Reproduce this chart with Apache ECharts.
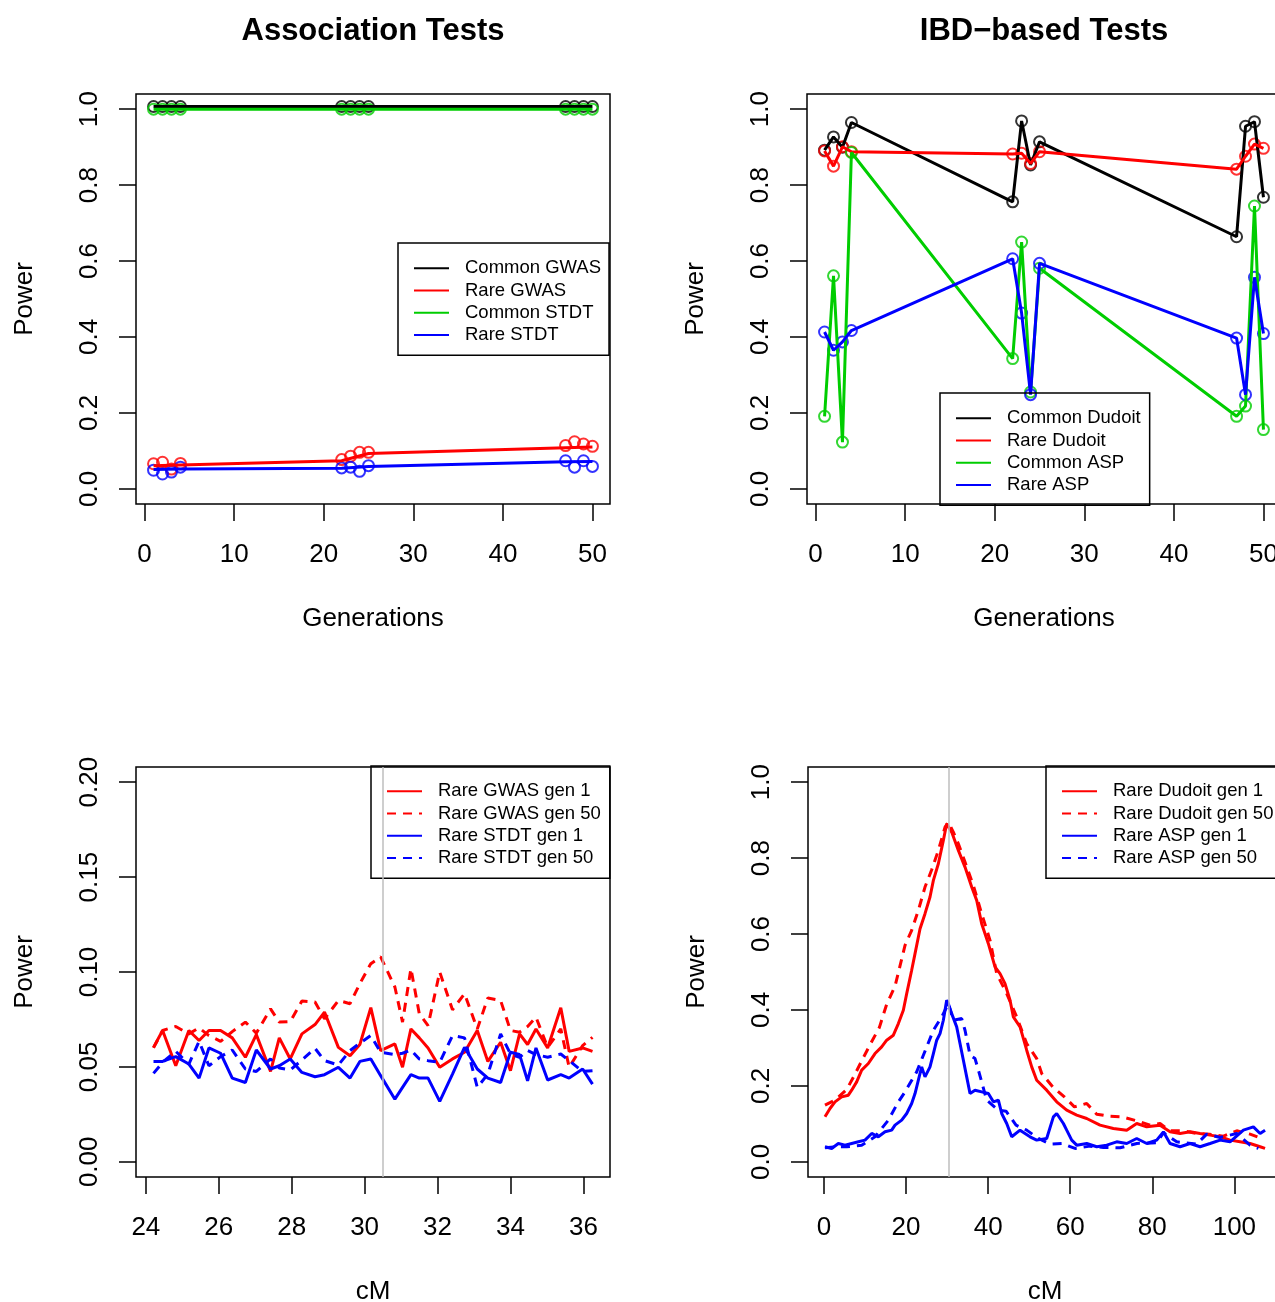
<!DOCTYPE html>
<html>
<head>
<meta charset="utf-8">
<script src="https://cdn.jsdelivr.net/npm/echarts@6/dist/echarts.min.js"></script>
<style>
html, body { margin: 0; padding: 0; background: #fff; }
#main { width: 1275px; height: 1302px; }
</style>
</head>
<body>
<div id="main"></div>
<script>
// generations simulated in the top two panels
var gens = [1, 2, 3, 4, 22, 23, 24, 25, 47, 48, 49, 50];
var lineGens = [1, 4, 22, 25, 47, 50];

// Association tests: replicate points and trend lines
var commonGwasPts = [1.007, 1.007, 1.007, 1.007, 1.007, 1.007, 1.007, 1.007, 1.007, 1.007, 1.007, 1.007];
var rareGwasPts = [0.066, 0.070, 0.052, 0.067, 0.077, 0.086, 0.096, 0.096, 0.114, 0.124, 0.118, 0.112];
var commonStdtPts = [1.0, 1.0, 1.0, 1.0, 1.0, 1.0, 1.0, 1.0, 1.0, 1.0, 1.0, 1.0];
var rareStdtPts = [0.049, 0.039, 0.044, 0.057, 0.055, 0.057, 0.046, 0.061, 0.074, 0.057, 0.074, 0.059];
var commonGwasLine = [1.007, 1.007, 1.007, 1.007, 1.007, 1.007];
var rareGwasLine = [0.061, 0.063, 0.074, 0.093, 0.108, 0.110];
var commonStdtLine = [1.0, 1.0, 1.0, 1.0, 1.0, 1.0];
var rareStdtLine = [0.051, 0.052, 0.054, 0.059, 0.071, 0.072];

// IBD-based tests
var commonDudoit = [0.892, 0.927, 0.900, 0.965, 0.756, 0.969, 0.853, 0.914, 0.664, 0.955, 0.967, 0.768];
var rareDudoit = [0.890, 0.850, 0.901, 0.888, 0.882, 0.884, 0.857, 0.888, 0.842, 0.876, 0.908, 0.897];
var commonAsp = [0.191, 0.561, 0.123, 0.886, 0.343, 0.650, 0.255, 0.581, 0.191, 0.218, 0.745, 0.156];
var rareAsp = [0.413, 0.365, 0.387, 0.417, 0.606, 0.463, 0.248, 0.594, 0.397, 0.248, 0.557, 0.409];

// position of the disease locus (grey line)
var causalCM = 30.5;

// bottom left: markers around the locus
var markerCM = [24.21, 24.46, 24.82, 25.18, 25.46, 25.73, 26.05, 26.37, 26.73, 27.03, 27.42, 27.66, 27.96, 28.28,
  28.64, 28.90, 29.28, 29.60, 29.87, 30.17, 30.44, 30.83, 31.04, 31.27, 31.50, 31.74, 32.06, 32.41, 32.74, 33.09,
  33.38, 33.73, 34.00, 34.25, 34.47, 34.70, 35.02, 35.38, 35.61, 35.98, 36.25];
var rareGwasGen1 = [0.0603, 0.0692, 0.0506, 0.0692, 0.0639, 0.0692, 0.0692, 0.0653, 0.0551, 0.0670, 0.0476, 0.0653,
  0.0542, 0.0674, 0.0723, 0.0789, 0.0603, 0.0559, 0.0618, 0.0812, 0.0586, 0.0621, 0.0498, 0.0700, 0.0653, 0.0600,
  0.0498, 0.0542, 0.0577, 0.0692, 0.0529, 0.0630, 0.0480, 0.0674, 0.0618, 0.0700, 0.0600, 0.0812, 0.0582, 0.0600, 0.0582];
var rareGwasGen50 = [0.0600, 0.0692, 0.0713, 0.0674, 0.0706, 0.0665, 0.0635, 0.0686, 0.0736, 0.0678, 0.0806, 0.0736,
  0.0739, 0.0847, 0.0842, 0.0753, 0.0850, 0.0833, 0.0939, 0.1044, 0.1080, 0.0921, 0.0736, 0.1018, 0.0780, 0.0718,
  0.1000, 0.0801, 0.0886, 0.0700, 0.0863, 0.0850, 0.0692, 0.0683, 0.0713, 0.0762, 0.0603, 0.0700, 0.0498, 0.0612, 0.0656];
var rareStdtGen1 = [0.0529, 0.0529, 0.0554, 0.0515, 0.0441, 0.0600, 0.0572, 0.0441, 0.0418, 0.0589, 0.0489, 0.0506,
  0.0542, 0.0471, 0.0448, 0.0459, 0.0498, 0.0441, 0.0529, 0.0542, 0.0454, 0.0330, 0.0392, 0.0459, 0.0441, 0.0441,
  0.0318, 0.0462, 0.0603, 0.0489, 0.0441, 0.0418, 0.0577, 0.0565, 0.0427, 0.0600, 0.0431, 0.0459, 0.0441, 0.0489, 0.0409];
var rareStdtGen50 = [0.0466, 0.0524, 0.0582, 0.0515, 0.0635, 0.0506, 0.0554, 0.0589, 0.0489, 0.0476, 0.0542, 0.0494,
  0.0484, 0.0536, 0.0598, 0.0533, 0.0510, 0.0586, 0.0625, 0.0665, 0.0577, 0.0565, 0.0572, 0.0589, 0.0542, 0.0533,
  0.0524, 0.0665, 0.0653, 0.0392, 0.0462, 0.0674, 0.0568, 0.0551, 0.0586, 0.0565, 0.0551, 0.0568, 0.0533, 0.0476, 0.0480];

// bottom right: whole chromosome
var dudoitGen1CM = [0.24, 1.46, 2.68, 4.31, 5.93, 6.74, 7.96, 9.18, 10.80, 12.43, 14.05, 15.27, 16.90, 18.12, 19.33,
  20.15, 21.36, 22.18, 23.40, 24.61, 25.83, 26.65, 27.86, 29.08, 29.89, 30.30, 31.11, 32.74, 34.36, 35.99, 37.21,
  38.42, 40.05, 41.67, 42.89, 44.11, 45.33, 46.14, 47.77, 49.39, 50.61, 51.83, 54.26, 56.70, 59.14, 61.58, 64.01,
  67.26, 70.51, 73.76, 76.20, 78.64, 81.88, 84.32, 86.76, 89.20, 91.63, 94.07, 96.51, 98.94, 101.38, 103.82, 106.26, 107.47];
var dudoitGen1 = [0.1185, 0.1404, 0.1580, 0.1711, 0.1755, 0.1887, 0.2106, 0.2414, 0.2589, 0.2852, 0.3027, 0.3203,
  0.3335, 0.3641, 0.3992, 0.4431, 0.5045, 0.5484, 0.6141, 0.6536, 0.6975, 0.7413, 0.7852, 0.8466, 0.8904, 0.8861,
  0.8685, 0.8203, 0.7764, 0.7238, 0.6887, 0.6273, 0.5746, 0.5133, 0.4957, 0.4694, 0.4255, 0.3817, 0.3554, 0.2940,
  0.2501, 0.2150, 0.1887, 0.1580, 0.1360, 0.1229, 0.1141, 0.0966, 0.0878, 0.0834, 0.1010, 0.0922, 0.0966, 0.0790,
  0.0746, 0.0790, 0.0746, 0.0703, 0.0659, 0.0571, 0.0527, 0.0483, 0.0396, 0.0352];
var dudoitGen50CM = [0.24, 2.68, 5.52, 7.55, 9.18, 11.37, 13.48, 15.27, 17.30, 18.52, 19.74, 21.36, 22.99, 24.61,
  26.24, 27.86, 29.49, 30.30, 31.52, 32.74, 34.36, 36.39, 38.42, 40.46, 42.08, 44.52, 46.95, 49.39, 51.83, 53.05,
  55.73, 58.57, 61.01, 64.01, 66.45, 69.29, 72.54, 76.20, 79.45, 81.88, 84.32, 87.57, 90.82, 93.91, 97.32, 100.57,
  103.82, 106.66];
var dudoitGen50 = [0.1492, 0.1624, 0.1904, 0.2308, 0.2659, 0.3115, 0.3536, 0.4150, 0.4624, 0.5159, 0.5703, 0.6097,
  0.6624, 0.7238, 0.7694, 0.8203, 0.8817, 0.8948, 0.8685, 0.8378, 0.7896, 0.7282, 0.6536, 0.5834, 0.4957, 0.4431,
  0.3817, 0.3115, 0.2720, 0.2325, 0.1975, 0.1711, 0.1448, 0.1536, 0.1255, 0.1203, 0.1185, 0.1080, 0.0966, 0.1010,
  0.0817, 0.0817, 0.0746, 0.0729, 0.0676, 0.0817, 0.0729, 0.0615];
var aspGen1CM = [0.24, 1.87, 3.49, 5.12, 6.74, 8.37, 9.99, 11.62, 13.24, 14.87, 16.49, 17.30, 18.93, 20.15, 21.36,
  22.18, 22.99, 23.80, 24.61, 25.83, 26.65, 27.46, 28.27, 29.08, 29.89, 30.30, 31.11, 32.33, 33.14, 33.96, 34.77,
  35.58, 36.80, 38.42, 40.05, 41.27, 42.49, 43.30, 44.52, 45.74, 47.77, 50.20, 51.83, 54.26, 55.89, 56.70, 58.33,
  59.14, 60.36, 61.58, 64.01, 66.45, 68.89, 71.32, 73.76, 76.20, 78.64, 81.07, 82.70, 84.32, 86.76, 89.20, 91.63,
  94.07, 96.51, 98.94, 102.19, 104.63, 106.26, 107.47];
var aspGen1 = [0.0396, 0.0352, 0.0483, 0.0439, 0.0483, 0.0527, 0.0571, 0.0747, 0.0659, 0.0790, 0.0834, 0.0966,
  0.1097, 0.1273, 0.1536, 0.1799, 0.2150, 0.2501, 0.2238, 0.2501, 0.2852, 0.3203, 0.3378, 0.3729, 0.4255, 0.4167,
  0.3904, 0.3554, 0.3115, 0.2676, 0.2238, 0.1799, 0.1887, 0.1843, 0.1799, 0.1580, 0.1624, 0.1273, 0.1010, 0.0659,
  0.0834, 0.0659, 0.0571, 0.0615, 0.1185, 0.1273, 0.1010, 0.0834, 0.0571, 0.0439, 0.0483, 0.0396, 0.0439, 0.0527,
  0.0483, 0.0615, 0.0483, 0.0571, 0.0790, 0.0483, 0.0396, 0.0483, 0.0396, 0.0483, 0.0571, 0.0527, 0.0834, 0.0922,
  0.0747, 0.0834];
var aspGen50CM = [0.24, 2.68, 5.52, 9.18, 12.43, 15.68, 18.12, 19.74, 22.58, 24.21, 26.65, 28.68, 30.30, 31.52,
  33.55, 34.36, 35.58, 36.80, 37.86, 39.64, 42.49, 44.36, 46.79, 49.39, 52.23, 55.08, 57.92, 61.17, 64.82, 68.07,
  72.13, 76.20, 81.07, 82.70, 85.95, 90.82, 93.26, 96.51, 100.57, 103.82, 105.85];
var aspGen50 = [0.0369, 0.0396, 0.0396, 0.0439, 0.0659, 0.1097, 0.1580, 0.1843, 0.2369, 0.2808, 0.3466, 0.3817,
  0.4167, 0.3729, 0.3773, 0.3466, 0.2808, 0.2720, 0.2325, 0.1624, 0.1360, 0.1334, 0.0966, 0.0834, 0.0615, 0.0466,
  0.0483, 0.0352, 0.0413, 0.0378, 0.0369, 0.0483, 0.0501, 0.0764, 0.0527, 0.0466, 0.0729, 0.0641, 0.0746, 0.0439, 0.0352];

var FONT = '"Liberation Sans", Arial, Helvetica, sans-serif';
var RED = '#ff0000', GREEN = '#00cd00', BLUE = '#0000ff', BLACK = '#000000';

function pairs(xs, ys) {
  return xs.map(function (x, i) { return [x, ys[i]]; });
}

function xAxisFor(grid, min, max, ticks, name) {
  return {
    type: 'value', gridIndex: grid, min: min, max: max,
    name: name, nameLocation: 'middle', nameGap: 102,
    nameTextStyle: { fontSize: 26, color: '#000', fontFamily: FONT },
    axisLine: { show: false, onZero: false },
    axisTick: { show: true, customValues: ticks, length: 17, lineStyle: { color: '#000', width: 1.5 } },
    axisLabel: { customValues: ticks, margin: 38, fontSize: 26, color: '#000', fontFamily: FONT },
    splitLine: { show: false }
  };
}

function yAxisFor(grid, min, max, ticks, digits) {
  return {
    type: 'value', gridIndex: grid, min: min, max: max,
    name: 'Power', nameLocation: 'middle', nameGap: 98,
    nameTextStyle: { fontSize: 26, color: '#000', fontFamily: FONT },
    axisLine: { show: false, onZero: false },
    axisTick: { show: true, customValues: ticks, length: 17, lineStyle: { color: '#000', width: 1.5 } },
    axisLabel: {
      customValues: ticks, margin: 33, rotate: 90, fontSize: 26, color: '#000', fontFamily: FONT,
      formatter: function (v) { return v.toFixed(digits); }
    },
    splitLine: { show: false }
  };
}

function lineSeries(name, grid, xs, ys, color, dashed) {
  return {
    type: 'line', name: name, xAxisIndex: grid, yAxisIndex: grid,
    data: pairs(xs, ys), symbol: 'none',
    lineStyle: { color: color, width: 3, type: dashed ? [9, 7] : 'solid' },
    itemStyle: { color: color }
  };
}

function pointSeries(name, grid, xs, ys, color) {
  return {
    type: 'scatter', name: name, xAxisIndex: grid, yAxisIndex: grid,
    data: pairs(xs, ys), symbol: 'circle', symbolSize: 11,
    itemStyle: { color: 'rgba(0,0,0,0)', borderColor: color, borderWidth: 2 }
  };
}

function legendBox(names, left, top, padRight) {
  return {
    orient: 'vertical', left: left, top: top, data: names,
    itemWidth: 35, itemHeight: 12, itemGap: 0,
    padding: [14, padRight, 9, 15],
    borderColor: '#000', borderWidth: 1.5,
    selectedMode: false,
    itemStyle: { opacity: 0 },
    lineStyle: { width: 2 },
    textStyle: { fontSize: 18.5, lineHeight: 22.3, color: '#000', fontFamily: FONT, padding: [0, 0, 0, 11] }
  };
}

function gridBox(left, top) {
  return {
    left: left, top: top, width: 474, height: 410, outerBoundsMode: 'none',
    show: true, borderColor: '#000', borderWidth: 1.5, backgroundColor: 'transparent'
  };
}

var grayLine = {
  silent: true, symbol: 'none', label: { show: false },
  lineStyle: { color: '#bebebe', width: 1.5, type: 'solid' },
  data: [{ xAxis: causalCM }]
};

var chart = echarts.init(document.getElementById('main'));

var series = [
  lineSeries('Common GWAS', 0, lineGens, commonGwasLine, BLACK),
  pointSeries('Common GWAS pts', 0, gens, commonGwasPts, BLACK),
  lineSeries('Rare GWAS', 0, lineGens, rareGwasLine, RED),
  pointSeries('Rare GWAS pts', 0, gens, rareGwasPts, RED),
  lineSeries('Common STDT', 0, lineGens, commonStdtLine, GREEN),
  pointSeries('Common STDT pts', 0, gens, commonStdtPts, GREEN),
  lineSeries('Rare STDT', 0, lineGens, rareStdtLine, BLUE),
  pointSeries('Rare STDT pts', 0, gens, rareStdtPts, BLUE),

  lineSeries('Common Dudoit', 1, gens, commonDudoit, BLACK),
  pointSeries('Common Dudoit pts', 1, gens, commonDudoit, BLACK),
  lineSeries('Rare Dudoit', 1, gens, rareDudoit, RED),
  pointSeries('Rare Dudoit pts', 1, gens, rareDudoit, RED),
  lineSeries('Common ASP', 1, gens, commonAsp, GREEN),
  pointSeries('Common ASP pts', 1, gens, commonAsp, GREEN),
  lineSeries('Rare ASP', 1, gens, rareAsp, BLUE),
  pointSeries('Rare ASP pts', 1, gens, rareAsp, BLUE),

  lineSeries('Rare GWAS gen 1', 2, markerCM, rareGwasGen1, RED, false),
  lineSeries('Rare GWAS gen 50', 2, markerCM, rareGwasGen50, RED, true),
  lineSeries('Rare STDT gen 1', 2, markerCM, rareStdtGen1, BLUE, false),
  lineSeries('Rare STDT gen 50', 2, markerCM, rareStdtGen50, BLUE, true),

  lineSeries('Rare Dudoit gen 1', 3, dudoitGen1CM, dudoitGen1, RED, false),
  lineSeries('Rare Dudoit gen 50', 3, dudoitGen50CM, dudoitGen50, RED, true),
  lineSeries('Rare ASP gen 1', 3, aspGen1CM, aspGen1, BLUE, false),
  lineSeries('Rare ASP gen 50', 3, aspGen50CM, aspGen50, BLUE, true)
];
series[16].markLine = grayLine;
series[20].markLine = grayLine;

var option = {
  backgroundColor: '#ffffff',
  animation: false,
  title: [
    { text: 'Association Tests', left: 373, top: 16, textAlign: 'center', padding: 0,
      textStyle: { fontSize: 31, fontWeight: 'bold', color: '#000', fontFamily: FONT } },
    { text: 'IBD\u2212based Tests', left: 1044, top: 16, textAlign: 'center', padding: 0,
      textStyle: { fontSize: 31, fontWeight: 'bold', color: '#000', fontFamily: FONT } }
  ],
  grid: [gridBox(136, 94), gridBox(807, 94), gridBox(136, 767), gridBox(808, 767)],
  xAxis: [
    xAxisFor(0, -0.96, 51.96, [0, 10, 20, 30, 40, 50], 'Generations'),
    xAxisFor(1, -0.96, 51.96, [0, 10, 20, 30, 40, 50], 'Generations'),
    xAxisFor(2, 23.73, 36.73, [24, 26, 28, 30, 32, 34, 36], 'cM'),
    xAxisFor(3, -3.9, 111.6, [0, 20, 40, 60, 80, 100], 'cM')
  ],
  yAxis: [
    yAxisFor(0, -0.04, 1.04, [0, 0.2, 0.4, 0.6, 0.8, 1.0], 1),
    yAxisFor(1, -0.04, 1.04, [0, 0.2, 0.4, 0.6, 0.8, 1.0], 1),
    yAxisFor(2, -0.008, 0.208, [0, 0.05, 0.1, 0.15, 0.2], 2),
    yAxisFor(3, -0.04, 1.04, [0, 0.2, 0.4, 0.6, 0.8, 1.0], 1)
  ],
  legend: [
    legendBox(['Common GWAS', 'Rare GWAS', 'Common STDT', 'Rare STDT'], 398, 243, 8),
    legendBox(['Common Dudoit', 'Rare Dudoit', 'Common ASP', 'Rare ASP'], 940, 393, 9),
    legendBox(['Rare GWAS gen 1', 'Rare GWAS gen 50', 'Rare STDT gen 1', 'Rare STDT gen 50'], 371, 766, 9),
    legendBox(['Rare Dudoit gen 1', 'Rare Dudoit gen 50', 'Rare ASP gen 1', 'Rare ASP gen 50'], 1046, 766, 9)
  ],
  series: series
};
chart.setOption(option);
</script>
</body>
</html>
